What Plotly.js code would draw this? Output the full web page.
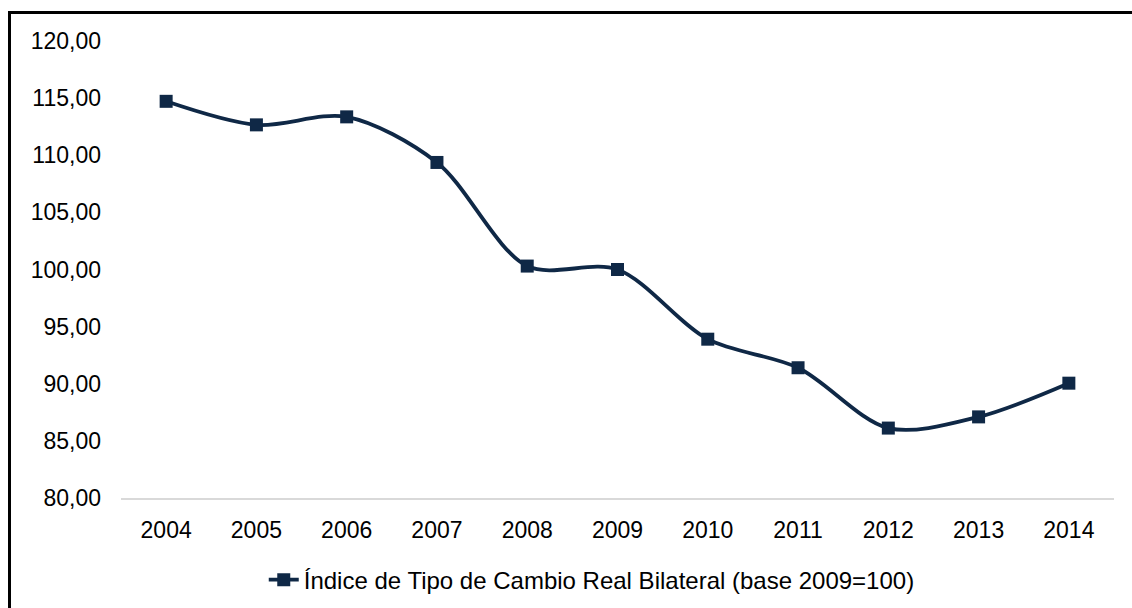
<!DOCTYPE html>
<html>
<head>
<meta charset="utf-8">
<script src="https://cdn.plot.ly/plotly-3.0.1.min.js"></script>
<style>
html,body{margin:0;padding:0;background:#fff;overflow:hidden;}
#frame{position:absolute;left:8px;top:11px;width:1200px;height:700px;border-left:3px solid #000;border-top:3px solid #000;z-index:2;pointer-events:none;}
#chart{position:absolute;left:0;top:0;width:1132px;height:608px;}
</style>
</head>
<body>
<div id="chart"></div>
<div id="frame"></div>
<script>
const years = ["2004","2005","2006","2007","2008","2009","2010","2011","2012","2013","2014"];
const indexValues = [114.72, 112.66, 113.36, 109.37, 100.30, 100.00, 93.90, 91.40, 86.12, 87.10, 90.05];
const seriesName = "Índice de Tipo de Cambio Real Bilateral (base 2009=100)";
const yTicks = [80, 85, 90, 95, 100, 105, 110, 115, 120];

const navy = "#0f2846";
const trace = {
  x: years,
  y: indexValues,
  name: seriesName,
  type: "scatter",
  mode: "lines+markers",
  line: {color: navy, width: 3.8, shape: "spline", smoothing: 0.9},
  marker: {symbol: "square", size: 13, color: navy},
  showlegend: true
};

const layout = {
  width: 1132, height: 608,
  margin: {l: 121, r: 18, t: 41, b: 110, pad: 0},
  paper_bgcolor: "#fff", plot_bgcolor: "#fff",
  separators: ",.",
  font: {family: "Arial, 'Liberation Sans', sans-serif", size: 23, color: "#000"},
  xaxis: {
    type: "category",
    range: [-0.5, 10.5],
    showgrid: false, zeroline: false,
    showline: true, linecolor: "#d9d9d9", linewidth: 2,
    ticks: "", ticklabelstandoff: 10,
    tickfont: {size: 23}
  },
  yaxis: {
    range: [80, 120],
    tickvals: yTicks,
    tickformat: ".2f",
    showgrid: false, zeroline: false, showline: false,
    ticks: "", ticklabelstandoff: 19,
    tickfont: {size: 23}
  },
  showlegend: true,
  legend: {
    orientation: "h",
    xref: "container", yref: "container",
    x: 0.233, xanchor: "left",
    y: 0.046, yanchor: "middle",
    font: {family: "Arial, 'Liberation Sans', sans-serif", size: 24, color: "#000"},
    bgcolor: "rgba(0,0,0,0)"
  }
};

Plotly.newPlot("chart", [trace], layout, {displayModeBar: false, staticPlot: true});
</script>
</body>
</html>
